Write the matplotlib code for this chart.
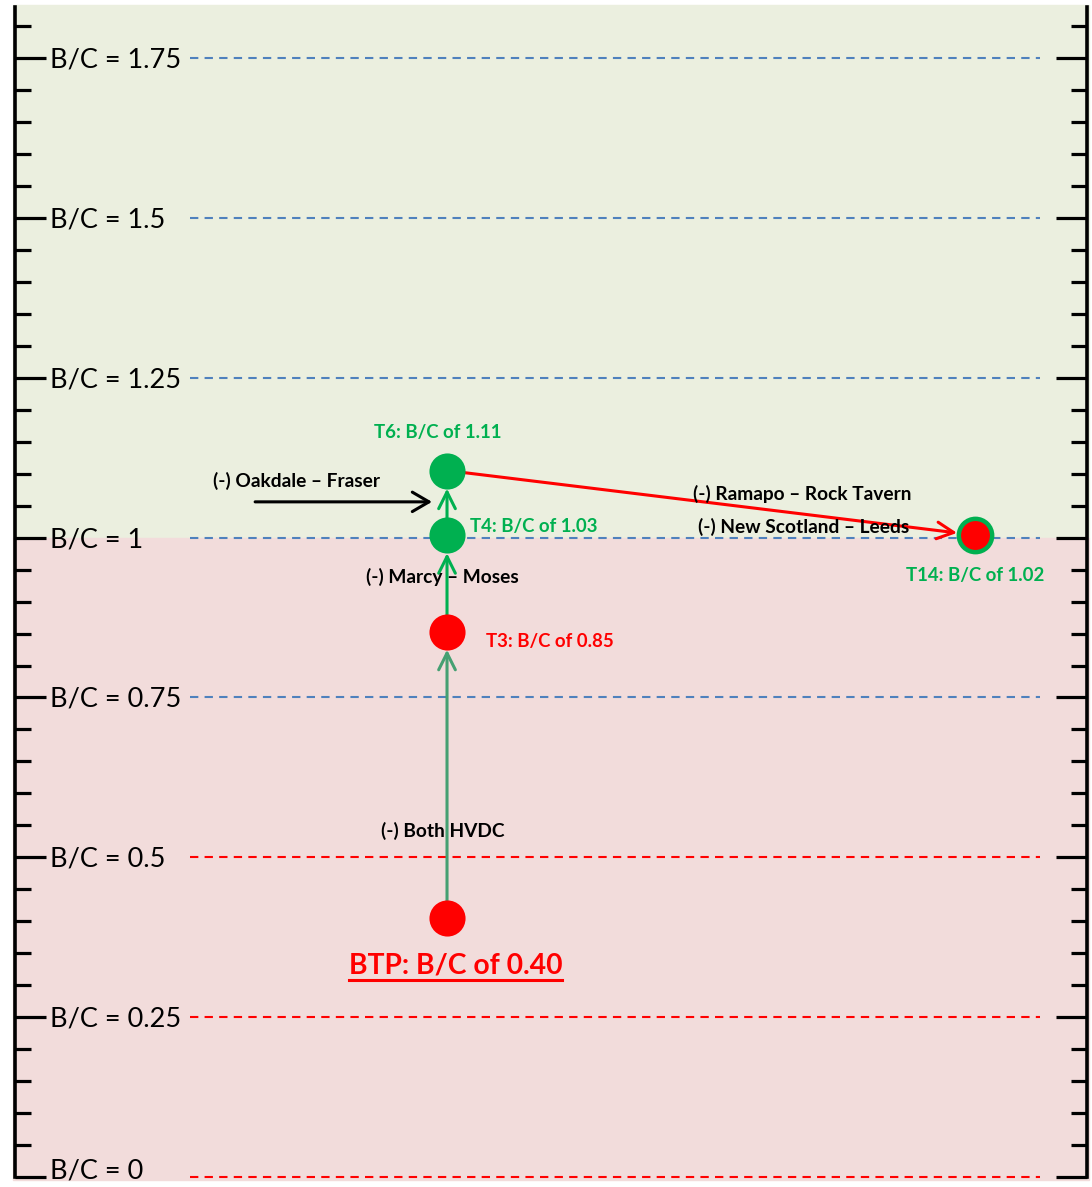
import matplotlib
matplotlib.use("Agg")
import matplotlib.pyplot as plt
import numpy as np

plt.rcParams['font.family'] = ['Lato', 'DejaVu Sans']

# Data
grid_levels = [0, 0.25, 0.5, 0.75, 1.0, 1.25, 1.5, 1.75]
grid_labels = ['B/C = 0', 'B/C = 0.25', 'B/C = 0.5', 'B/C = 0.75', 'B/C = 1',
               'B/C = 1.25', 'B/C = 1.5', 'B/C = 1.75']

stage_names = ['BTP', 'T3', 'T4', 'T6', 'T14']
stage_x = [40.3, 40.3, 40.3, 40.3, 89.55]
stage_bc = [0.405, 0.853, 1.004, 1.105, 1.004]   # where the points sit on the scale
stage_text = ['BTP: B/C of 0.40', 'T3: B/C of 0.85', 'T4: B/C of 1.03',
              'T6: B/C of 1.11', 'T14: B/C of 1.02']

# transitions between stages: (from, to, label, label x, label y)
moves = [(0, 1, '(-) Both HVDC', 39.9, 0.541),
         (1, 2, '(-) Marcy \u2013 Moses', 39.9, 0.939),
         (2, 3, None, None, None),
         (3, 4, None, None, None)]
move_colors = ['#45A072', '#00B050', '#00B050', '#FF0000']

oakdale_x = [22.4, 38.9]
oakdale_y = 1.056
side_labels = ['(-) Oakdale \u2013 Fraser', '(-) Ramapo \u2013 Rock Tavern',
               '(-) New Scotland \u2013 Leeds']
side_x = [26.3, 73.4, 73.6]
side_y = [1.089, 1.068, 1.017]

green = '#00B050'
red = '#FF0000'
blue = '#4F81BD'
small = 13.8

fig = plt.figure(figsize=(10.92, 11.87), dpi=100)
ax = fig.add_axes([15 / 1092, 10 / 1187, 1072 / 1092, 1170 / 1187])
ax.set_xlim(0, 100)
ax.set_ylim(0, 1.83)
ax.set_facecolor('none')

# background bands
ax.axhspan(1.0, 1.833, xmin=-0.002, xmax=1.002, color='#EBEFDF', zorder=0, clip_on=False)
ax.axhspan(-0.005, 1.0, xmin=-0.002, xmax=1.002, color='#F2DCDB', zorder=0, clip_on=False)

# dashed reference lines
for lvl in grid_levels:
    c = red if lvl < 0.7 else blue
    ax.plot([16.3, 95.6], [lvl, lvl], color=c, lw=1.5, ls=(0, (4, 3)), zorder=1,
            clip_on=False)

# spines and ticks
for s in ['top', 'bottom']:
    ax.spines[s].set_visible(False)
for s in ['left', 'right']:
    ax.spines[s].set_linewidth(2.6)
ax.set_xticks([])
ax.set_yticks(grid_levels)
ax.set_yticks(np.arange(0, 1.81, 0.05), minor=True)
ax.tick_params(axis='y', which='major', direction='in', length=22, width=2.3,
               left=True, right=True, labelleft=False)
ax.tick_params(axis='y', which='minor', direction='in', length=11.5, width=2.3,
               left=True, right=True)

for lvl, lab in zip(grid_levels, grid_labels):
    yy = lvl - 0.003 if lvl > 0 else 0.009   # keep the bottom label inside the figure
    ax.text(3.25, yy, lab, fontsize=19.5, ha='left', va='center',
            color='black', clip_on=False, zorder=3)

# arrows between stages
for (a, b, lab, lx, ly), c in zip(moves, move_colors):
    ax.annotate('', xy=(stage_x[b], stage_bc[b]), xytext=(stage_x[a], stage_bc[a]),
                arrowprops=dict(arrowstyle='->,head_length=0.6,head_width=0.3',
                                color=c, lw=2.2, shrinkA=12, shrinkB=13,
                                mutation_scale=20), zorder=4)
    if lab:
        ax.text(lx, ly, lab, fontsize=small, fontweight='bold', ha='center',
                va='center', zorder=6)

ax.annotate('', xy=(oakdale_x[1], oakdale_y), xytext=(oakdale_x[0], oakdale_y),
            arrowprops=dict(arrowstyle='->,head_length=0.6,head_width=0.35',
                            color='black', lw=2.2, shrinkA=0, shrinkB=0,
                            mutation_scale=20), zorder=4)
for lab, x, y in zip(side_labels, side_x, side_y):
    ax.text(x, y, lab, fontsize=small, fontweight='bold', ha='center', va='center',
            zorder=6)

# stage points
face = [red, red, green, green, red]
edge = [red, red, green, green, green]
for x, y, fc, ec in zip(stage_x, stage_bc, face, edge):
    ax.plot(x, y, 'o', ms=24 if fc != ec else 26, mfc=fc, mec=ec,
            mew=3.2 if fc != ec else 0, zorder=5)

# stage labels
offsets = [(6, -34.5), (28, -7), (16.5, 6.5), (-6.5, 27.5), (0, -29)]
aligns = ['center', 'left', 'left', 'center', 'center']
tcolors = [red, red, green, green, green]
sizes = [20.3, 13.4, 13.4, 13.4, 13.4]
texts = []
for x, y, t, off, ha, c, fs in zip(stage_x, stage_bc, stage_text, offsets, aligns,
                                    tcolors, sizes):
    texts.append(ax.annotate(t, (x, y), xytext=off, textcoords='offset points',
                             ha=ha, va='center', color=c, fontsize=fs,
                             fontweight='bold', zorder=6))

# underline the BTP label
fig.canvas.draw()
bb = texts[0].get_window_extent()
ax.plot([bb.x0 / 1092, bb.x1 / 1092], [(bb.y0 - 1) / 1187] * 2, color=red, lw=2.2,
        transform=fig.transFigure, clip_on=False, zorder=6)

plt.savefig('out.png', dpi=100)
